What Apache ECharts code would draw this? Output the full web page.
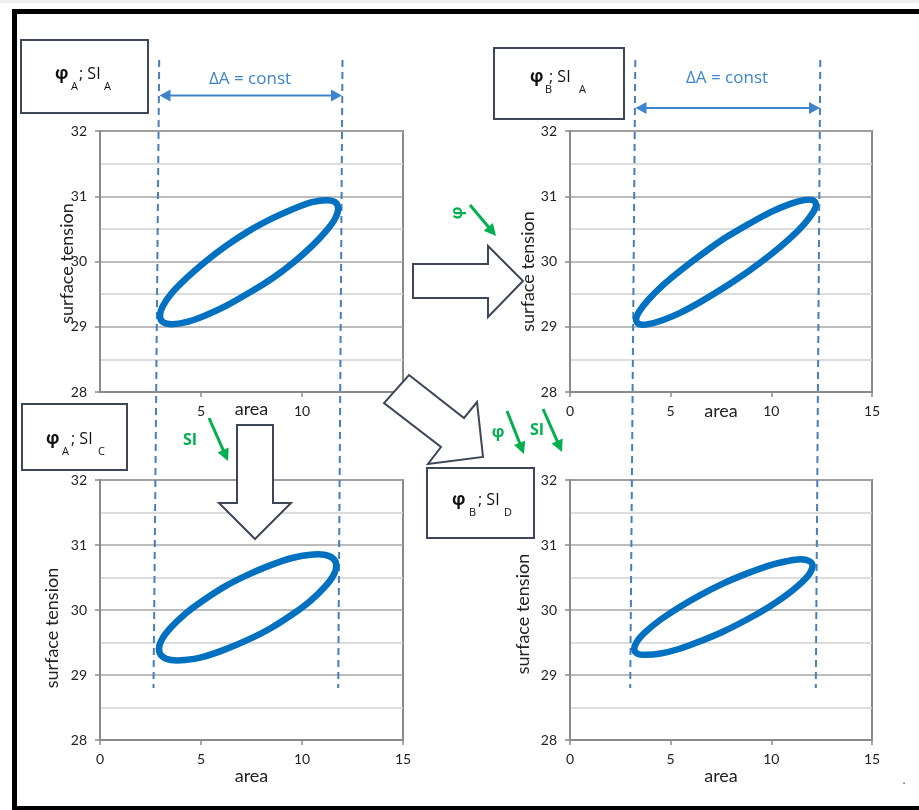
<!DOCTYPE html>
<html>
<head>
<meta charset="utf-8">
<script src="https://cdn.jsdelivr.net/npm/echarts@6.0.0/dist/echarts.min.js"></script>
<style>
  html, body { margin: 0; padding: 0; background: #ffffff; }
  #chart { width: 919px; height: 810px; }
</style>
</head>
<body>
<div id="chart"></div>
<script>
// Hysteresis loops of surface tension vs. area for four (phase, SI) states.
const areaRange = [0, 15];
const areaInterval = 5;
const tensionRange = [28, 32];
const tensionInterval = 1;

const panelTitles = [
  ['φ', 'A', '; SI', 'A'],
  ['φ', 'B', '; SI', 'A'],
  ['φ', 'A', '; SI', 'C'],
  ['φ', 'B', '; SI', 'D']
];

// loop φA; SIA
const loopAA_area = [11.79, 11.64, 11.20, 10.50, 9.59, 8.52, 7.38, 6.24, 5.18, 4.26, 3.56, 3.12,
                     2.97, 3.12, 3.56, 4.26, 5.18, 6.24, 7.38, 8.52, 9.59, 10.50, 11.20, 11.64];
const loopAA_tension = [30.81, 30.91, 30.94, 30.91, 30.81, 30.66, 30.47, 30.24, 29.99, 29.74, 29.52, 29.32,
                        29.17, 29.07, 29.04, 29.07, 29.17, 29.32, 29.52, 29.74, 29.99, 30.24, 30.47, 30.66];
// loop φB; SIA
const loopBA_area = [12.22, 12.07, 11.62, 10.91, 9.99, 8.91, 7.75, 6.59, 5.52, 4.59, 3.88, 3.43,
                     3.28, 3.43, 3.88, 4.59, 5.52, 6.59, 7.75, 8.91, 9.99, 10.91, 11.62, 12.07];
const loopBA_tension = [30.87, 30.94, 30.94, 30.88, 30.76, 30.58, 30.37, 30.12, 29.87, 29.63, 29.41, 29.23,
                        29.11, 29.04, 29.04, 29.10, 29.22, 29.40, 29.62, 29.86, 30.11, 30.35, 30.57, 30.75];
// loop φA; SIC
const loopAC_area = [11.70, 11.55, 11.11, 10.41, 9.51, 8.45, 7.31, 6.17, 5.12, 4.21, 3.51, 3.07,
                     2.92, 3.07, 3.51, 4.21, 5.12, 6.17, 7.31, 8.45, 9.51, 10.41, 11.11, 11.55];
const loopAC_tension = [30.68, 30.79, 30.85, 30.85, 30.80, 30.69, 30.54, 30.36, 30.15, 29.94, 29.73, 29.55,
                        29.40, 29.29, 29.23, 29.23, 29.28, 29.39, 29.54, 29.72, 29.93, 30.14, 30.35, 30.53];
// loop φB; SID
const loopBD_area = [12.05, 11.90, 11.46, 10.75, 9.84, 8.77, 7.62, 6.47, 5.41, 4.49, 3.78, 3.34,
                     3.19, 3.34, 3.78, 4.49, 5.41, 6.47, 7.62, 8.77, 9.84, 10.75, 11.46, 11.90];
const loopBD_tension = [30.68, 30.75, 30.78, 30.75, 30.68, 30.56, 30.41, 30.23, 30.04, 29.85, 29.67, 29.52,
                        29.40, 29.33, 29.31, 29.33, 29.40, 29.52, 29.67, 29.85, 30.04, 30.23, 30.41, 30.56];

const loops = [
  [loopAA_area, loopAA_tension],
  [loopBA_area, loopBA_tension],
  [loopAC_area, loopAC_tension],
  [loopBD_area, loopBD_tension]
];

const FONT = 'Lato, "Open Sans", "Noto Sans", sans-serif';
const GREEK_FONT = '"Open Sans", "Noto Sans", "DejaVu Sans", sans-serif';
const AXIS_GRAY = '#8a8a8a';
const LOOP_BLUE = '#0070c0';
const GUIDE_BLUE = '#4a7ebb';
const NOTE_BLUE = '#3f83cc';
const GREEN = '#00b050';
const OUTLINE = '#3d4757';

// plot rectangles, per-panel axis name offsets (yShift slides the y name down along its axis)
const panels = [
  { grid: { left: 100, top: 131, width: 303, height: 261 }, xGap: 8, yGap: 24, yShift: 2, hideEnds: true },
  { grid: { left: 570, top: 131, width: 302, height: 261 }, xGap: 10, yGap: 33, yShift: 10, hideEnds: false },
  { grid: { left: 100, top: 480, width: 303, height: 260 }, xGap: 27, yGap: 39, yShift: 18, hideEnds: false },
  { grid: { left: 570, top: 480, width: 302, height: 260 }, xGap: 27, yGap: 38, yShift: 4, hideEnds: false }
];

const grids = [], xAxes = [], yAxes = [], series = [];
panels.forEach((p, i) => {
  const area = loops[i][0], tension = loops[i][1];
  grids.push(Object.assign({ show: true, borderColor: AXIS_GRAY, borderWidth: 2, backgroundColor: 'transparent' }, p.grid));
  xAxes.push({
    gridIndex: i, type: 'value', min: areaRange[0], max: areaRange[1], interval: areaInterval,
    name: 'area', nameLocation: 'middle', nameGap: p.xGap, nameMoveOverlap: false,
    nameTextStyle: { fontSize: 18, color: '#222', fontFamily: FONT },
    axisLine: { show: true, onZero: false, lineStyle: { color: AXIS_GRAY, width: 2 } },
    axisTick: { show: true, length: 5, lineStyle: { color: AXIS_GRAY, width: 1.5 } },
    axisLabel: { margin: 12, fontSize: 14, color: '#222', fontFamily: FONT,
                 showMinLabel: !p.hideEnds, showMaxLabel: !p.hideEnds,
                 formatter: v => (p.hideEnds && (v === areaRange[0] || v === areaRange[1])) ? '' : String(v) },
    splitLine: { show: false }
  });
  yAxes.push({
    gridIndex: i, type: 'value', min: tensionRange[0], max: tensionRange[1], interval: tensionInterval,
    name: 'surface tension', nameLocation: 'middle', nameGap: p.yGap, nameMoveOverlap: false,
    nameTextStyle: { fontSize: 18, color: '#222', fontFamily: FONT, padding: [0, p.yShift * 2, 0, 0] },
    axisLine: { show: true, onZero: false, lineStyle: { color: AXIS_GRAY, width: 2 } },
    axisTick: { show: true, length: 5, lineStyle: { color: AXIS_GRAY, width: 1.5 } },
    axisLabel: { margin: 13, fontSize: 14, color: '#222', fontFamily: FONT },
    splitLine: { show: true, lineStyle: { color: '#a6a6a6', width: 1.5 } },
    minorTick: { show: false, splitNumber: 2 },
    minorSplitLine: { show: true, lineStyle: { color: '#d2d2d2', width: 1.5 } }
  });
  // closed loop: the whole curve is emitted once, as a smoothed closed path through the points
  series.push({
    type: 'custom', coordinateSystem: 'cartesian2d', xAxisIndex: i, yAxisIndex: i,
    data: area.map((a, k) => [a, tension[k]]),
    silent: true, z: 3, clip: false, animation: false,
    renderItem: (params, api) => {
      if (params.dataIndex !== 0) return null;
      const pts = area.map((a, k) => api.coord([a, tension[k]]));
      return {
        type: 'polygon',
        shape: { points: pts, smooth: 0.34 },
        style: { fill: 'none', stroke: LOOP_BLUE, lineWidth: 6.5, lineJoin: 'round' }
      };
    }
  });
});

// ---- annotation helpers ----
function txt(x, y, text, size, color, opts) {
  opts = opts || {};
  return {
    type: 'text', x: x, y: y, rotation: opts.rotation || 0, z: 120, silent: true,
    style: {
      text: text, x: 0, y: 0, fill: color, fontSize: size,
      fontFamily: opts.family || GREEK_FONT, fontWeight: opts.weight || 'normal',
      align: opts.align || 'left', textAlign: opts.align || 'left',
      verticalAlign: 'middle', textVerticalAlign: 'middle'
    }
  };
}
function head(x1, y1, x2, y2, len, half, color) {
  const dx = x2 - x1, dy = y2 - y1, d = Math.hypot(dx, dy);
  const ux = dx / d, uy = dy / d;
  const bx = x2 - ux * len, by = y2 - uy * len;
  return {
    type: 'polygon', z: 110, silent: true,
    shape: { points: [[x2, y2], [bx - uy * half, by + ux * half], [bx + uy * half, by - ux * half]] },
    style: { fill: color }
  };
}
function arrow(x1, y1, x2, y2, color, width, len, half) {
  const dx = x2 - x1, dy = y2 - y1, d = Math.hypot(dx, dy);
  const ex = x2 - dx / d * (len - 1), ey = y2 - dy / d * (len - 1);
  return [
    { type: 'line', z: 110, silent: true, shape: { x1: x1, y1: y1, x2: ex, y2: ey },
      style: { stroke: color, lineWidth: width } },
    head(x1, y1, x2, y2, len, half, color)
  ];
}
function doubleArrow(x1, x2, y, color) {
  return [
    { type: 'line', z: 110, silent: true, shape: { x1: x1 + 9, y1: y, x2: x2 - 9, y2: y },
      style: { stroke: color, lineWidth: 2 } },
    head(x2, y, x1, y, 11, 6, color),
    head(x1, y, x2, y, 11, 6, color)
  ];
}
function blockArrow(points) {
  return { type: 'polygon', z: 105, silent: true, shape: { points: points },
           style: { fill: '#ffffff', stroke: OUTLINE, lineWidth: 2, lineJoin: 'miter' } };
}
function dashed(x1, y1, x2, y2) {
  return { type: 'line', z: 1, silent: true, shape: { x1: x1, y1: y1, x2: x2, y2: y2 },
           style: { stroke: GUIDE_BLUE, lineWidth: 2, lineDash: [7, 5] } };
}
function titleBox(rect, t, at) {
  const els = [{ type: 'rect', z: 100, silent: true, shape: rect,
                 style: { fill: '#ffffff', stroke: OUTLINE, lineWidth: 2 } }];
  els.push(txt(at[0], at[1], t[0], 17, '#111', { weight: 'bold' }));
  els.push(txt(at[2], at[1] + 13, t[1], 11, '#111'));
  els.push(txt(at[3], at[1], t[2], 16, '#111'));
  els.push(txt(at[4], at[1] + 13, t[3], 11, '#111'));
  return els;
}

const graphics = [].concat(
  // frame
  [
    { type: 'rect', z: 0, silent: true, shape: { x: 0, y: 0, width: 919, height: 3 }, style: { fill: '#efefef' } },
    { type: 'rect', z: 130, silent: true, shape: { x: 12, y: 9, width: 907, height: 5 }, style: { fill: '#000' } },
    { type: 'rect', z: 130, silent: true, shape: { x: 12, y: 9, width: 5, height: 801 }, style: { fill: '#000' } },
    { type: 'rect', z: 130, silent: true, shape: { x: 12, y: 806, width: 907, height: 4 }, style: { fill: '#000' } }
  ],
  // constant-area guides
  [
    dashed(159.2, 60, 153.5, 688), dashed(342.5, 60, 338.2, 688),
    dashed(635.3, 60, 630.2, 688), dashed(820.3, 60, 815.8, 688)
  ],
  doubleArrow(159.5, 342, 95.5, NOTE_BLUE),
  doubleArrow(635.5, 820, 108, NOTE_BLUE),
  [
    txt(250, 79, 'ΔA = const', 17, NOTE_BLUE, { align: 'center' }),
    txt(727, 78, 'ΔA = const', 17, NOTE_BLUE, { align: 'center' })
  ],
  // state boxes
  titleBox({ x: 21, y: 40, width: 127, height: 73 }, panelTitles[0], [55, 74, 71, 79, 104]),
  titleBox({ x: 494, y: 48, width: 130, height: 71 }, panelTitles[1], [530, 77, 545, 549, 579]),
  titleBox({ x: 22, y: 404, width: 105, height: 66 }, panelTitles[2], [46, 439, 62, 71, 98]),
  titleBox({ x: 427, y: 468, width: 107, height: 70 }, panelTitles[3], [452, 500, 469, 478, 504]),
  // transition arrows
  [
    blockArrow([[413, 264], [488, 264], [488, 246], [523, 281], [488, 317], [488, 298], [413, 298]]),
    blockArrow([[237, 425], [273, 425], [273, 503], [291, 503], [255, 539], [219, 503], [237, 503]]),
    blockArrow([[409, 375], [464, 418], [477, 402], [483, 457], [428, 464], [441, 447], [384, 403]])
  ],
  // change markers
  arrow(470, 205, 496, 236, GREEN, 3, 12, 6),
  arrow(209, 418, 228, 461, GREEN, 3, 12, 6),
  arrow(507, 411, 524, 454, GREEN, 3, 12, 6),
  arrow(543, 409, 562, 452, GREEN, 3, 12, 6),
  [
    txt(457, 213, 'φ', 16, GREEN, { weight: 'bold', align: 'center', rotation: Math.PI / 2 }),
    txt(190, 440, 'SI', 16, GREEN, { weight: 'bold', align: 'center' }),
    txt(498, 432, 'φ', 16, GREEN, { weight: 'bold', align: 'center' }),
    txt(537, 430, 'SI', 16, GREEN, { weight: 'bold', align: 'center' }),
    txt(904, 781, '.', 12, '#444', { align: 'center' })
  ]
);

const chart = echarts.init(document.getElementById('chart'), null, { renderer: 'canvas' });
chart.setOption({
  animation: false,
  backgroundColor: '#ffffff',
  grid: grids,
  xAxis: xAxes,
  yAxis: yAxes,
  series: series,
  graphic: { elements: graphics }
});
</script>
</body>
</html>
